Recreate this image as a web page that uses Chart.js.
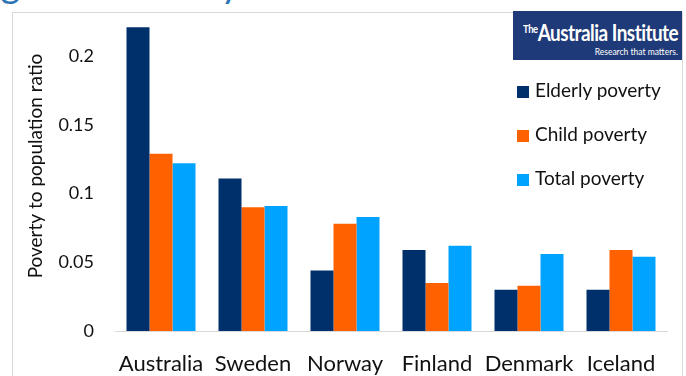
<!DOCTYPE html>
<html>
<head>
<meta charset="utf-8">
<script src="https://cdn.jsdelivr.net/npm/chart.js@4.4.1/dist/chart.umd.min.js"></script>
<style>
  body { margin: 0; background: #fff; font-family: Lato, sans-serif; }
  #page { position: relative; width: 686px; height: 376px; overflow: hidden; }
  #frame { position: absolute; left: 12px; top: 12px; width: 669px; height: 400px;
           border: 1px solid #d9d9d9; border-bottom: none; }
  #title { position: absolute; left: -30px; top: -37px; font-size: 38px; line-height: 38px; color: #2e74b5; white-space: nowrap; }
  #chart { position: absolute; left: 0; top: 0; }
  #logo { position: absolute; left: 513px; top: 11px; width: 169px; height: 49px; background: #1f3a78; color: #fff; overflow: hidden; }
  #logo .name { position: absolute; left: 10px; top: 8px; font-size: 22px; font-weight: bold; letter-spacing: -0.6px;
                white-space: nowrap; transform: scaleX(0.86); transform-origin: left top; }
  #logo .name sup { font-size: 11px; letter-spacing: -0.5px; vertical-align: 8px; }
  #logo .tag { position: absolute; right: 4px; top: 34px; font-size: 10px; white-space: nowrap;
               transform: scaleX(0.85); transform-origin: right top; }
  #legend { position: absolute; left: 517px; top: 78px; }
  .item { height: 44px; display: flex; align-items: flex-start; font-size: 19px; color: #111; }
  .item span.box { width: 12px; height: 12px; margin-top: 8px; margin-right: 6px; }
</style>
</head>
<body>
<div id="page">
  <div id="frame"></div>
  <div id="title">Figure 4: Elderly</div>
  <canvas id="chart" width="686" height="376"></canvas>
  <div id="logo"><div class="name"><sup>The</sup>Australia Institute</div><div class="tag">Research that matters.</div></div>
  <div id="legend"></div>
</div>
<script>
const countries = ['Australia', 'Sweden', 'Norway', 'Finland', 'Denmark', 'Iceland'];
const elderly = [0.221, 0.111, 0.044, 0.059, 0.030, 0.030];
const child = [0.129, 0.090, 0.078, 0.035, 0.033, 0.059];
const total = [0.122, 0.091, 0.083, 0.062, 0.056, 0.054];
const yTicks = [0, 0.05, 0.1, 0.15, 0.2];

const seriesNames = ['Elderly poverty', 'Child poverty', 'Total poverty'];
const colors = ['#00306b', '#ff6000', '#00a3ff'];

const ctx = document.getElementById('chart');
const chart = new Chart(ctx, {
  type: 'bar',
  data: {
    labels: countries,
    datasets: [elderly, child, total].map((d, i) => ({
      label: seriesNames[i],
      data: d,
      backgroundColor: colors[i],
      barPercentage: 1,
      categoryPercentage: 0.75
    }))
  },
  options: {
    responsive: false,
    animation: false,
    layout: { padding: { left: 0, right: 19, top: 1, bottom: 0 } },
    plugins: { legend: { display: false }, tooltip: { enabled: false } },
    scales: {
      x: {
        grid: { display: false },
        border: { color: '#d9d9d9', width: 1 },
        ticks: { color: '#111', font: { family: 'Lato', size: 22 }, padding: 12, maxRotation: 0 },
        afterFit(s) { s.height = 45; }
      },
      y: {
        min: 0,
        max: 0.24,
        grid: { display: false, drawTicks: false },
        border: { display: false },
        afterBuildTicks(s) { s.ticks = yTicks.map(v => ({ value: v })); },
        ticks: {
          color: '#111',
          font: { family: 'Lato', size: 18 },
          padding: 21,
          callback: v => String(Number(v.toFixed(2)))
        },
        title: {
          display: true,
          text: 'Poverty to population ratio',
          color: '#111',
          font: { family: 'Lato', size: 19 },
          padding: { top: 24, bottom: 0 }
        },
        afterFit(s) {
          s.width = 115;
          // tick padding would otherwise push the plot top down
          s.paddingTop = 0;
          s.paddingBottom = 0;
        }
      }
    }
  }
});

const legend = document.getElementById('legend');
chart.data.datasets.forEach(ds => {
  const row = document.createElement('div');
  row.className = 'item';
  row.innerHTML = '<span class="box" style="background:' + ds.backgroundColor + '"></span>' + ds.label;
  legend.appendChild(row);
});
</script>
</body>
</html>
